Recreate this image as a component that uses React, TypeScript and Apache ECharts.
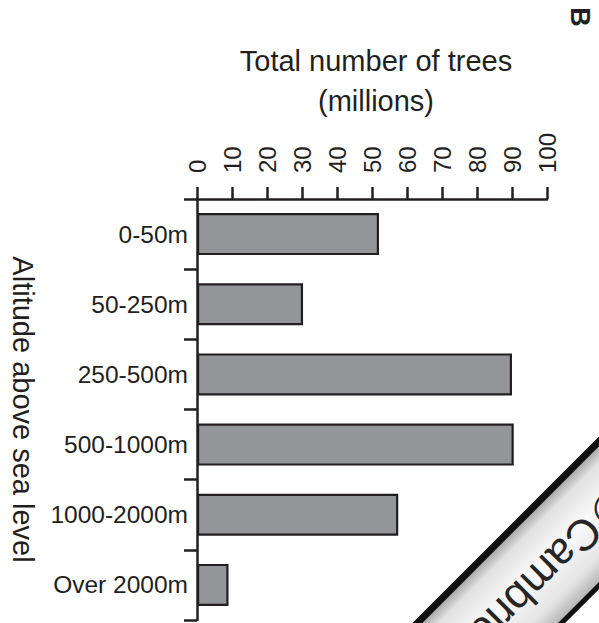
import React, { useEffect, useRef } from "react";
import * as echarts from "echarts";

const categories = ["0-50m", "50-250m", "250-500m", "500-1000m", "1000-2000m", "Over 2000m"];
const treeValues = [52, 30.3, 90, 90.5, 57.5, 9];
const xMin = 0;
const xMax = 100;
const xInterval = 10;
const titleText = "Total number of trees\n(millions)";
const yAxisName = "Altitude above sea level";
const panelLetter = "B";
const stampMark = "\u00A9\uFE0E";
const stampWord = "Cambridge";

const FONT = "'Liberation Sans', Arial, Helvetica, sans-serif";
const INK = "#231f20";

export default function App() {
  const ref = useRef<HTMLDivElement>(null);
  useEffect(() => {
    if (!ref.current) return;
    const chart = echarts.init(ref.current, undefined, { renderer: "svg" });
    chart.setOption({
      animation: false,
      backgroundColor: "#ffffff",
      textStyle: { fontFamily: FONT, color: INK },
      title: {
        text: titleText,
        left: 371,
        top: 36,
        textAlign: "center",
        textStyle: { fontFamily: FONT, fontSize: 29, fontWeight: "normal", color: INK, lineHeight: 40 },
      },
      grid: { left: 196, right: 52, top: 199, bottom: 3, containLabel: false },
      xAxis: {
        type: "value",
        position: "top",
        min: xMin,
        max: xMax,
        interval: xInterval,
        splitLine: { show: false },
        axisLine: { show: true, lineStyle: { color: INK, width: 2.5 } },
        axisTick: { show: true, length: 12, lineStyle: { color: INK, width: 2.5 } },
        axisLabel: { rotate: -90, margin: 26, fontSize: 24, color: INK, fontFamily: FONT },
      },
      yAxis: {
        type: "category",
        data: categories,
        inverse: true,
        name: yAxisName,
        nameLocation: "middle",
        nameRotate: -90,
        nameGap: 160,
        nameTextStyle: { fontSize: 29, color: INK, fontFamily: FONT },
        axisLine: { show: true, lineStyle: { color: INK, width: 2.5 } },
        axisTick: { show: true, length: 13, lineStyle: { color: INK, width: 2.5 } },
        axisLabel: { margin: 9, fontSize: 24.5, color: INK, fontFamily: FONT },
      },
      series: [
        {
          type: "bar",
          data: treeValues,
          barWidth: 42,
          itemStyle: { color: "#939598", borderColor: INK, borderWidth: 2.2 },
          silent: true,
        },
      ],
      graphic: [
        {
          type: "text",
          x: 580,
          y: 17,
          rotation: -Math.PI / 2,
          style: {
            text: panelLetter,
            fontSize: 27,
            fontWeight: "bold",
            fontFamily: FONT,
            fill: INK,
            align: "center",
            verticalAlign: "middle",
          },
        },
        {
          type: "group",
          x: 560,
          y: 552.5,
          rotation: Math.PI / 4,
          silent: true,
          children: [
            {
              type: "rect",
              shape: { x: -260, y: -51, width: 520, height: 102 },
              style: {
                fill: new echarts.graphic.LinearGradient(0, 0, 0, 1, [
                  { offset: 0, color: "#9a9a9a" },
                  { offset: 0.15, color: "#e2e2e2" },
                  { offset: 0.45, color: "#fafafa" },
                  { offset: 0.8, color: "#e4e4e4" },
                  { offset: 1, color: "#b0b0b0" },
                ]),
              },
            },
            {
              type: "line",
              shape: { x1: -260, y1: -51, x2: 260, y2: -51 },
              style: { stroke: "#111111", lineWidth: 7 },
            },
            {
              type: "line",
              shape: { x1: -260, y1: 51, x2: 260, y2: 51 },
              style: { stroke: "#111111", lineWidth: 5 },
            },
            {
              type: "text",
              x: 89,
              y: 4,
              rotation: Math.PI,
              style: {
                text: "{c|" + stampMark + "}" + stampWord,
                fontSize: 44,
                fontFamily: FONT,
                fill: "#262626",
                align: "left",
                verticalAlign: "middle",
                rich: {
                  c: { fontSize: 44, fontFamily: "'DejaVu Sans', sans-serif", fill: "#262626" },
                },
              },
            },
          ],
        },
      ],
    });
    return () => chart.dispose();
  }, []);
  return <div ref={ref} style={{ position: "fixed", left: 0, top: 0, width: 599, height: 623 }} />;
}
